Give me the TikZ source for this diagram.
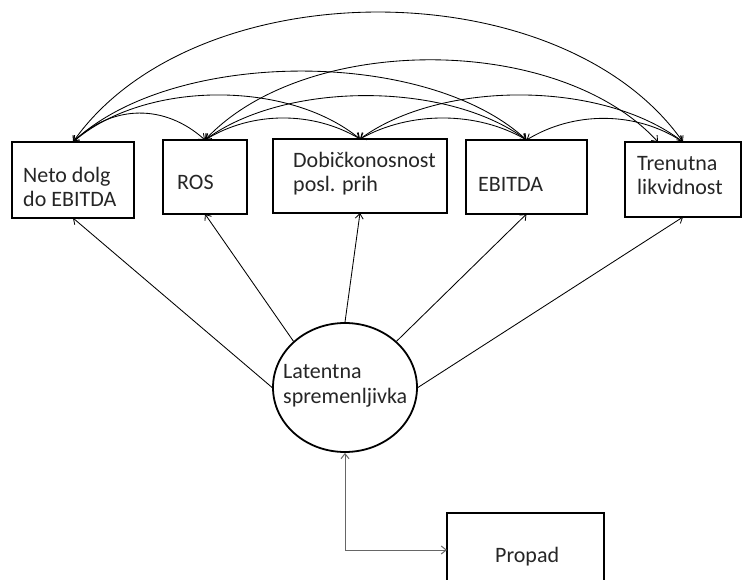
\documentclass[tikz,border=0pt]{standalone}
\usepackage{fontspec}
\setmainfont{Carlito}
\usetikzlibrary{arrows.meta,shapes.geometric}
\begin{document}
\begin{tikzpicture}[x=1pt,y=-1pt,
  box/.style={draw, line width=1.8pt, inner sep=0pt, outer sep=0pt, anchor=north west},
  txt/.style={anchor=base west, inner sep=0pt, align=left, text=black!85,
              font=\fontsize{22}{24.5}\selectfont},
  load/.style={line width=0.85pt, -{Straight Barb[length=5pt,width=8pt]}},
  cov/.style={line width=0.85pt, {Straight Barb[length=5pt,width=8pt]}-{Straight Barb[length=5pt,width=8pt]}},
  elbow/.style={line width=1pt, draw=black!60, {Straight Barb[length=5pt,width=8pt]}-{Straight Barb[length=5pt,width=8pt]}}
]
\useasboundingbox (0,0) rectangle (742,580);
\clip (0,0) rectangle (742,580);
\fill[white] (0,0) rectangle (742,580);

% boxes
\node[box, minimum width=122pt, minimum height=76pt] (n1) at (12,142) {};
\node[box, minimum width=84pt,  minimum height=74pt] (n2) at (163,140) {};
\node[box, minimum width=174pt, minimum height=74pt] (n3) at (273,139) {};
\node[box, minimum width=121pt, minimum height=74pt] (n4) at (466,140) {};
\node[box, minimum width=116pt, minimum height=75pt] (n5) at (625,142) {};
\node[box, minimum width=157pt, minimum height=74pt] (pr) at (447,513) {};
\node[draw, ellipse, line width=1.8pt, inner sep=0pt, minimum width=144pt, minimum height=129pt] (lat) at (345,387.5) {};

% texts (anchor = baseline of last line)
\node[txt] (t1) at (23,207) {Neto dolg\\do EBITDA};
\node[txt] (t2) at (177,190) {ROS};
\node[txt] (t3) at (293,192) {Dobičkonosnost\\posl. prih};
\node[txt] (t4) at (478,192) {EBITDA};
\node[txt] (t5) at (637,195) {Trenutna\\likvidnost};
\node[txt] (tl) at (283,403) {Latentna\\spremenljivka};
\node[txt] (tp) at (495,562) {Propad};

% loadings
\draw[load] (lat.west) -- (n1.south);
\draw[load] (lat.north west) -- (n2.south);
\draw[load] (lat.north) -- (n3.south);
\draw[load] (lat.north east) -- (n4.south);
\draw[load] (lat.east) -- (n5.south);

% latent to Propad
\draw[elbow] (lat.south) |- (pr.west);

% covariances
\draw[cov] (n1.north) .. controls (113,104) and (165,104) .. (n2.north);
\draw[cov] (n1.north) .. controls (145,80) and (288,80) .. (n3.north);
\draw[cov] (n1.north) .. controls (173,48) and (427,48) .. (n4.north);
\draw[cov] (n1.north) .. controls (195,-31) and (561,-31) .. (n5.north);
\draw[cov] (n2.north) .. controls (252,111) and (313,111) .. (n3.north);
\draw[cov] (n2.north) .. controls (285,81) and (447,81) .. (n4.north);
\draw[cov] (n2.north) .. controls (305,33) and (558,33) .. ([xshift=-25pt]n5.north);
\draw[cov] (n3.north) .. controls (410,111) and (477,111) .. (n4.north);
\draw[cov] (n3.north) .. controls (441,80) and (602,80) .. (n5.north);
\draw[cov] (n4.north) .. controls (574,111) and (636,111) .. (n5.north);
\end{tikzpicture}
\end{document}
